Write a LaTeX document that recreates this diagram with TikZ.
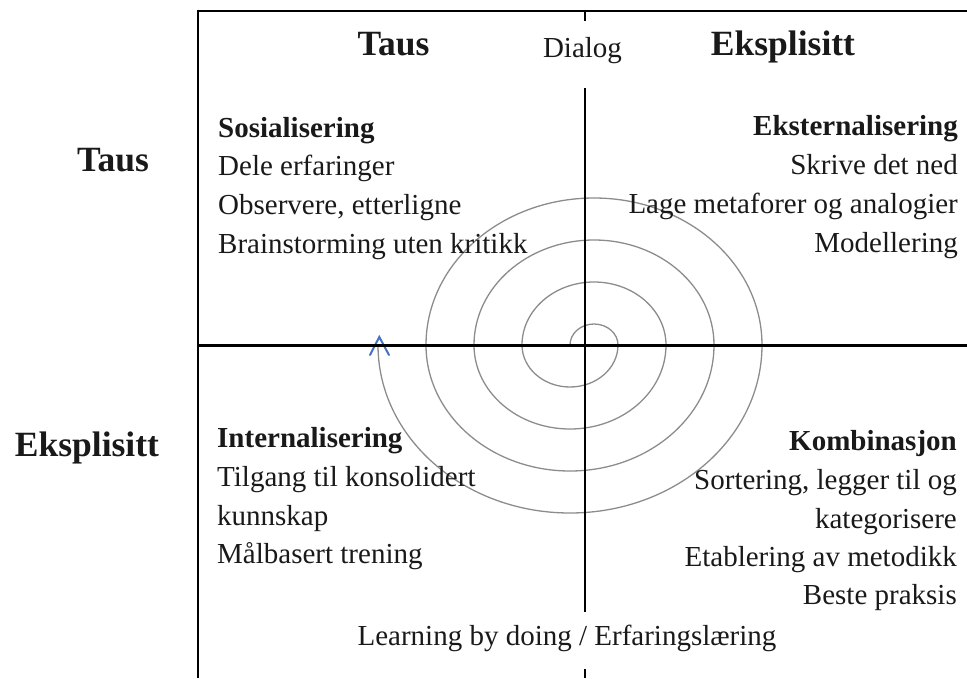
\documentclass[tikz,border=0pt]{standalone}
\usepackage{fontspec}
\setmainfont{Liberation Serif}
\definecolor{spiralgray}{RGB}{140,140,140}
\definecolor{arrowblue}{RGB}{68,114,196}
\definecolor{ink}{RGB}{25,25,25}
\tikzset{
  body/.style={inner sep=0pt, text=ink, font=\fontsize{29}{34}\selectfont},
  bodyb/.style={body, font=\fontsize{29}{34}\selectfont\bfseries},
  head/.style={inner sep=0pt, text=ink, font=\fontsize{35.5}{40}\selectfont\bfseries},
  axis/.style={draw=black, line width=2pt},
  frame/.style={draw=black, line width=1.5pt},
  spiral/.style={draw=spiralgray, line width=1.3pt},
  tip/.style={draw=arrowblue, line width=2pt, line cap=round}
}
\begin{document}
\begin{tikzpicture}[x=1pt,y=-1pt]
\useasboundingbox (0,0) rectangle (967,678);
% spiral
\coordinate (sc) at (570,345);
\draw[spiral] (sc)
  arc[start angle=180,end angle=360,x radius=24,y radius=21]
  arc[start angle=0,end angle=180,x radius=48,y radius=42]
  arc[start angle=180,end angle=360,x radius=72,y radius=63]
  arc[start angle=0,end angle=180,x radius=96,y radius=84]
  arc[start angle=180,end angle=360,x radius=120,y radius=105]
  arc[start angle=0,end angle=180,x radius=144,y radius=126]
  arc[start angle=180,end angle=360,x radius=168,y radius=147]
  arc[start angle=0,end angle=180,x radius=192,y radius=168] coordinate (send);
\coordinate (al) at (370,355);
\coordinate (at) at (379.3,337);
\coordinate (ar) at (389,355);
\draw[tip] (al) -- (at) -- (ar);
% frame and axes
\coordinate (fb) at (198,678);
\coordinate (ftl) at (198,11);
\coordinate (ftr) at (967,11);
\draw[frame] (fb) -- (ftl) -- (ftr);
\coordinate (v1) at (585,11);
\coordinate (v2) at (585,21);
\coordinate (v3) at (585,88);
\coordinate (v4) at (585,612);
\coordinate (v5) at (585,669);
\coordinate (v6) at (585,678);
\draw[axis] (v1) -- (v2);
\draw[axis] (v3) -- (v4);
\draw[axis] (v5) -- (v6);
\coordinate (hl) at (198,345.5);
\coordinate (hr) at (967,345.5);
\draw[axis, line width=2.5pt] (hl) -- (hr);
% headers
\node[head, anchor=base] (hTaus) at (393.5,55) {Taus};
\node[body, anchor=base] (hDialog) at (582.5,57) {Dialog};
\node[head, anchor=base] (hEks) at (783,55) {Eksplisitt};
\node[head, anchor=base] (lTaus) at (113,171) {Taus};
\node[head, anchor=base] (lEks) at (87,456) {Eksplisitt};
% top-left
\node[bodyb, anchor=base west] (tl1) at (218,137) {Sosialisering};
\node[body, anchor=base west] (tl2) at (218,175.5) {Dele erfaringer};
\node[body, anchor=base west] (tl3) at (218,214) {Observere, etterligne};
\node[body, anchor=base west] (tl4) at (218,253) {Brainstorming uten kritikk};
% top-right
\node[bodyb, anchor=base east] (tr1) at (958,135) {Eksternalisering};
\node[body, anchor=base east] (tr2) at (958,174) {Skrive det ned};
\node[body, anchor=base east] (tr3) at (958,213) {Lage metaforer og analogier};
\node[body, anchor=base east] (tr4) at (958,252) {Modellering};
% bottom-left
\node[bodyb, anchor=base west] (bl1) at (217,447) {Internalisering};
\node[body, anchor=base west] (bl2) at (217,486) {Tilgang til konsolidert};
\node[body, anchor=base west] (bl3) at (217,525) {kunnskap};
\node[body, anchor=base west] (bl4) at (217,563) {Målbasert trening};
% bottom-right
\node[bodyb, anchor=base east] (br1) at (957,450) {Kombinasjon};
\node[body, anchor=base east] (br2) at (957,489) {Sortering, legger til og};
\node[body, anchor=base east] (br3) at (957,528) {kategorisere};
\node[body, anchor=base east] (br4) at (957,566) {Etablering av metodikk};
\node[body, anchor=base east] (br5) at (957,604) {Beste praksis};
% bottom
\node[body, anchor=base] (bot) at (567,645) {Learning by doing / Erfaringslæring};
\end{tikzpicture}
\end{document}
